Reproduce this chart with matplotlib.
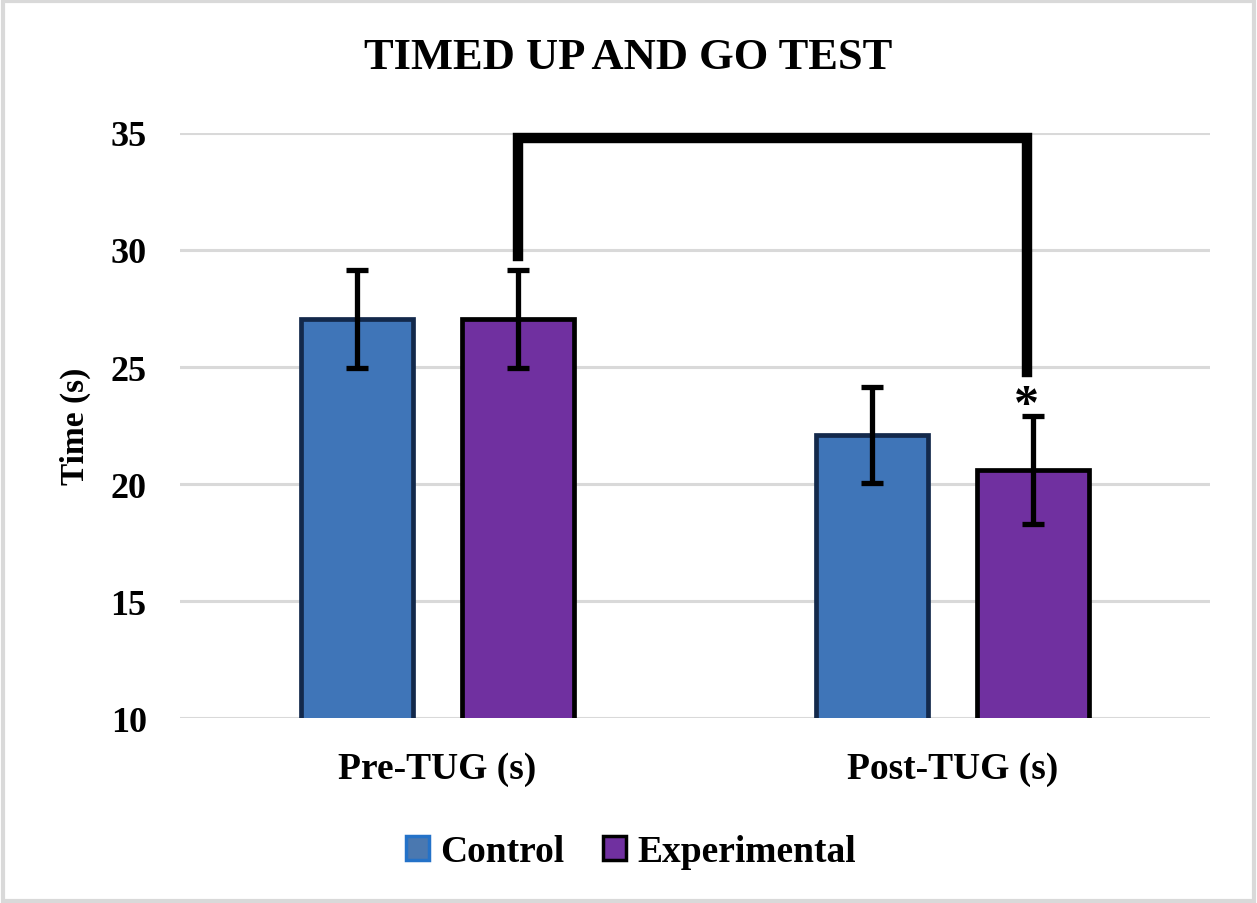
import matplotlib.pyplot as plt
import numpy as np
from matplotlib.patches import Rectangle

plt.rcParams['font.family'] = ['Liberation Serif', 'DejaVu Serif']
plt.rcParams['font.weight'] = 'bold'

categories = ["Pre-TUG (s)", "Post-TUG (s)"]
groups = ["Control", "Experimental"]
control = [27.05, 22.1]
control_err = [2.1, 2.05]
experimental = [27.05, 20.6]
experimental_err = [2.1, 2.3]
yticks = [10, 15, 20, 25, 30, 35]

bracket_top = 34.8
bracket_left_bottom = 29.75
bracket_right_bottom = 24.8
star_y = 22.8

fig = plt.figure(figsize=(12.57, 9.04), dpi=100)
ax = fig.add_axes([0.1432, 0.2046, 0.8194, 0.6472])

x = np.arange(len(categories))
w = 0.217
off = 0.156
ax.bar(x - off, control, w, bottom=0, color="#3F75B8", edgecolor="#13294B",
       linewidth=3.4, zorder=3, label=groups[0])
ax.bar(x + off, experimental, w, bottom=0, color="#7030A0", edgecolor="black",
       linewidth=3.4, zorder=3, label=groups[1])
ax.errorbar(x - off, control, yerr=control_err, fmt="none", ecolor="black",
            elinewidth=3.8, capsize=8, capthick=3.8, zorder=4)
ax.errorbar(x + off, experimental, yerr=experimental_err, fmt="none", ecolor="black",
            elinewidth=3.8, capsize=8, capthick=3.8, zorder=4)

# significance bracket
ax.plot([x[0] + off, x[0] + off, x[1] + off - 0.012, x[1] + off - 0.012],
        [bracket_left_bottom, bracket_top, bracket_top, bracket_right_bottom],
        color="black", linewidth=7.5, solid_joinstyle="miter", zorder=5,
        clip_on=False)
ax.text(x[1] + off - 0.012, star_y, "*", ha="center", va="baseline",
        fontsize=36, fontweight="bold")

ax.set_xlim(-0.5, 1.5)
ax.set_ylim(10, 35)
ax.set_yticks(yticks)
ax.set_xticks(x)
ax.set_xticklabels(categories, fontsize=27, fontweight="bold")
ax.tick_params(axis="y", labelsize=26, length=0, pad=24)
ax.tick_params(axis="x", length=0, pad=24)
ax.yaxis.grid(True, color="#D9D9D9", linewidth=2.2, zorder=0)
ax.set_axisbelow(True)
for s in ax.spines.values():
    s.set_visible(False)
ax.set_ylabel("Time (s)", fontsize=24, fontweight="bold", labelpad=14)

fig.text(0.4996, 0.936, "TIMED UP AND GO TEST", ha="center", va="center",
         fontsize=32, fontweight="bold")

h1 = Rectangle((0, 0), 1, 1, facecolor="#4A78B0", edgecolor="#2472C8", linewidth=2.5)
h2 = Rectangle((0, 0), 1, 1, facecolor="#7030A0", edgecolor="black", linewidth=2.5)
fig.legend([h1, h2], groups, loc="center", bbox_to_anchor=(0.502, 0.057),
           ncol=2, frameon=False, fontsize=27, handlelength=0.6, handleheight=0.6,
           handletextpad=0.3, columnspacing=1.05)

fig.patches.append(Rectangle((0.002, 0.002), 0.996, 0.996, transform=fig.transFigure,
                             fill=False, edgecolor="#D9D9D9", linewidth=3))

plt.savefig("out.png", dpi=100)
